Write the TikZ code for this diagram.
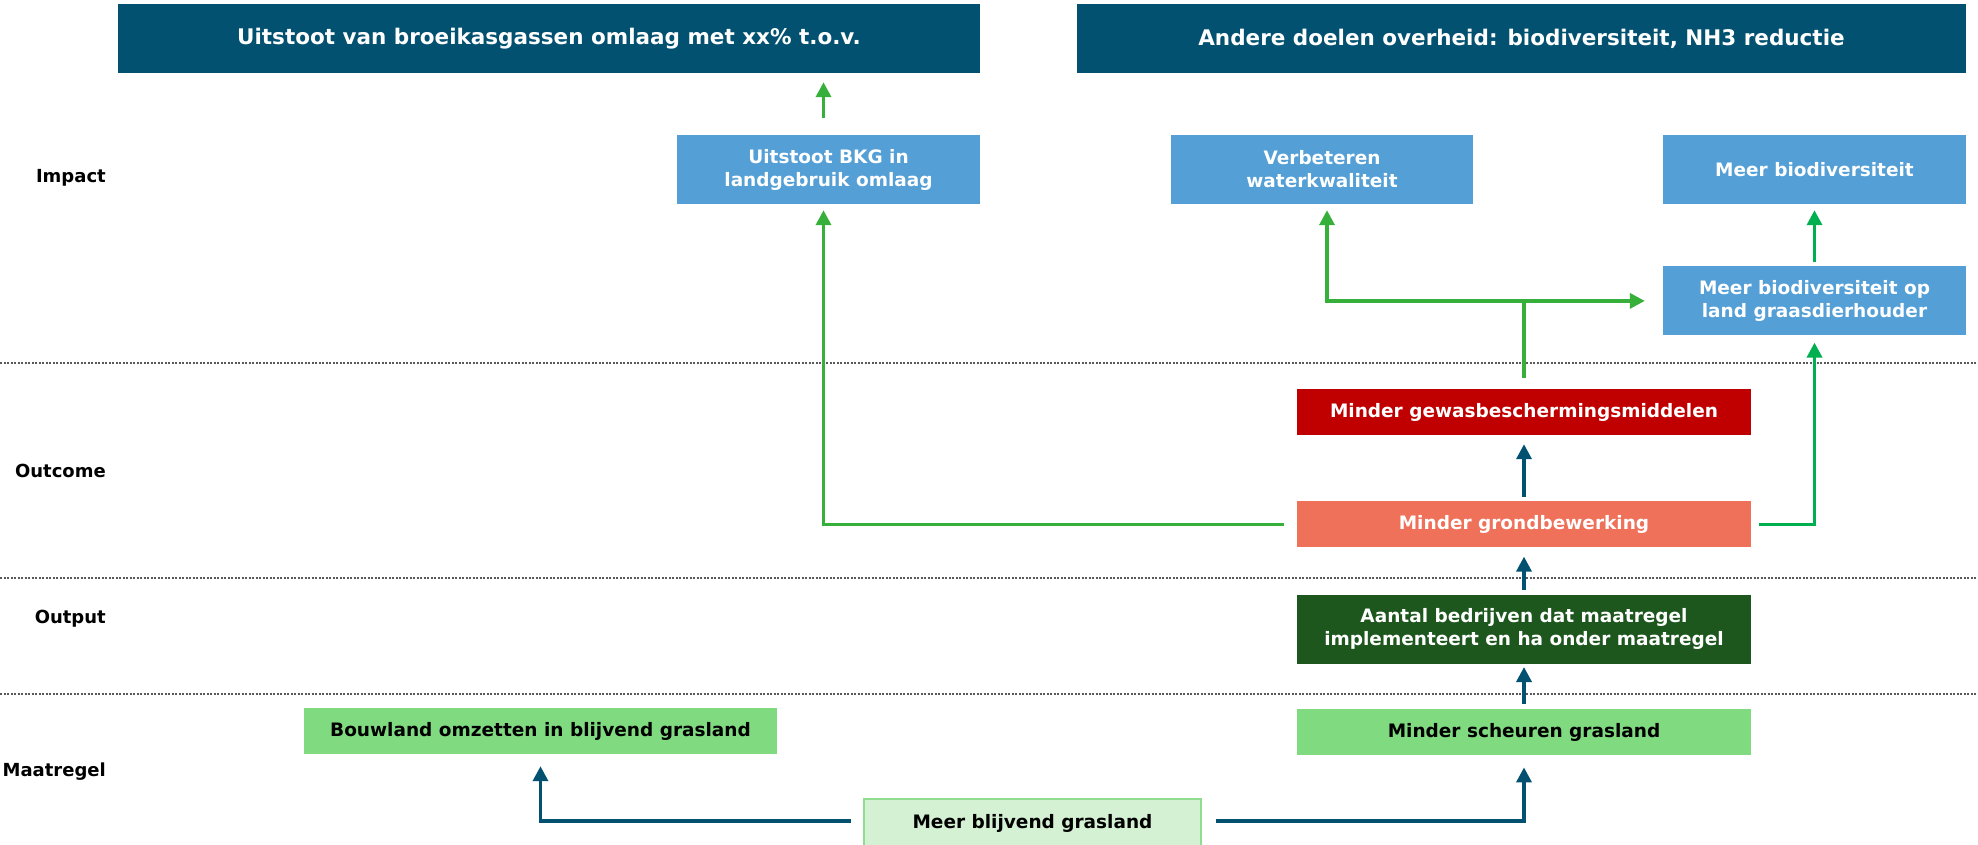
\documentclass[tikz,border=0pt]{standalone}
\usepackage{fontspec}
\setmainfont{DejaVu Sans}
\usetikzlibrary{positioning}
\usetikzlibrary{arrows.meta}

\definecolor{goalblue}{RGB}{2,81,112}
\definecolor{impactblue}{RGB}{83,159,214}
\definecolor{outred}{RGB}{192,0,0}
\definecolor{outsalmon}{RGB}{239,113,90}
\definecolor{outputgreen}{RGB}{29,87,29}
\definecolor{measuregreen}{RGB}{128,218,128}
\definecolor{palegreen}{RGB}{212,241,212}
\definecolor{paleborder}{RGB}{144,220,144}
\definecolor{arrowgreen}{RGB}{54,176,58}
\definecolor{arrowgreentwo}{RGB}{0,176,80}

\begin{document}
\begin{tikzpicture}[x=1pt,y=-1pt,>={Triangle[length=15pt,width=15pt]},
    box/.style={inner sep=0pt,align=center,text=white,font=\bfseries\fontsize{18.5}{23}\selectfont},
    goal/.style={box,fill=goalblue,minimum height=69pt,font=\bfseries\fontsize{21.5}{25}\selectfont},
    impact/.style={box,fill=impactblue,minimum width=303pt,minimum height=69pt},
    wide/.style={box,minimum width=454pt,minimum height=46pt},
    measure/.style={box,text=black,fill=measuregreen,minimum height=46pt},
    lane/.style={anchor=base east,inner sep=0pt,font=\bfseries\fontsize{18}{22}\selectfont},
    sep/.style={line width=1.2pt,draw=black!65,dash pattern=on 2pt off 1.5pt},
    gline/.style={line width=3.5pt,draw=arrowgreen},
    gline2/.style={line width=3.5pt,draw=arrowgreentwo},
    bline/.style={line width=3.5pt,draw=goalblue}]
    \useasboundingbox (0,0) rectangle (1978,844);
    \clip (0,0) rectangle (1978,844);

    \draw [sep] (0,363) -- (1978,363);
    \draw [sep] (0,578) -- (1978,578);
    \draw [sep] (0,694) -- (1978,694);

    \node [lane] (Impact)    at (106,182) {Impact};
    \node [lane] (Outcome)   at (106,477) {Outcome};
    \node [lane] (Output)    at (106,623) {Output};
    \node [lane] (Maatregel) at (106,776) {Maatregel};

    \node [goal,minimum width=862pt] (Goal) at (549,38.5) {Uitstoot van broeikasgassen omlaag met xx\% t.o.v.};
    \node [goal,minimum width=889pt] (Doel) at (1521.5,38.5) {Andere doelen overheid: biodiversiteit, NH3 reductie};

    \node [impact] (BKG) at (828.5,169.5) {Uitstoot BKG in\\landgebruik omlaag};
    \node [impact,minimum width=302pt] (Water) at (1322,169.5) {Verbeteren\\waterkwaliteit};
    \node [impact] (Bio) at (1814.5,169.5) {Meer biodiversiteit};
    \node [impact,below=62pt of Bio] (BioLand) {Meer biodiversiteit op\\land graasdierhouder};

    \node [wide,fill=outred] (Gewas) at (1524,412) {Minder gewasbeschermingsmiddelen};
    \node [wide,fill=outsalmon,below=66pt of Gewas] (Grond) {Minder grondbewerking};
    \node [wide,fill=outputgreen,minimum height=69pt,below=47pt of Grond] (Aantal) {Aantal bedrijven dat maatregel\\implementeert en ha onder maatregel};
    \node [measure,minimum width=454pt,below=45pt of Aantal] (Scheur) {Minder scheuren grasland};
    \node [measure,minimum width=473pt] (Bouw) at (540.5,731) {Bouwland omzetten in blijvend grasland};
    \node [measure,fill=palegreen,draw=paleborder,line width=1.5pt,minimum width=337pt,minimum height=48pt] (Blijf) at (1032.5,823) {Meer blijvend grasland};

    \coordinate (Split) at (Gewas.north |- BioLand.west);% branch point above the red box

    \draw [gline,->,shorten <=17pt,shorten >=9pt] ([xshift=-5pt]BKG.north) -- ([xshift=-5pt]BKG.north |- Goal.south);
    \draw [gline,->] ([xshift=-13pt]Grond.west) -| ([xshift=-5pt,yshift=-6pt]BKG.south);
    \draw [gline2,->] ([xshift=8pt]Grond.east) -| ([yshift=-7pt]BioLand.south);
    \draw [gline2,->,shorten <=4pt,shorten >=6pt] (BioLand.north) -- (Bio.south);
    \draw [gline] ([yshift=11pt]Gewas.north) -- (Split);
    \draw [gline,->] (Split) -| ([xshift=5pt,yshift=-6pt]Water.south);
    \draw [gline,->] (Split) -- ([xshift=-18pt]BioLand.west);

    \draw [bline,->,shorten <=4pt,shorten >=9pt] (Grond.north) -- (Gewas.south);
    \draw [bline,->,shorten <=5pt,shorten >=9pt] (Aantal.north) -- (Grond.south);
    \draw [bline,->,shorten <=5pt,shorten >=3pt] (Scheur.north) -- (Aantal.south);
    \draw [bline,->] ([xshift=14pt,yshift=2pt]Blijf.east) -| ([yshift=-12pt]Scheur.south);
    \draw [bline,->] ([xshift=-12pt,yshift=2pt]Blijf.west) -| ([yshift=-12pt]Bouw.south);
\end{tikzpicture}
\end{document}
